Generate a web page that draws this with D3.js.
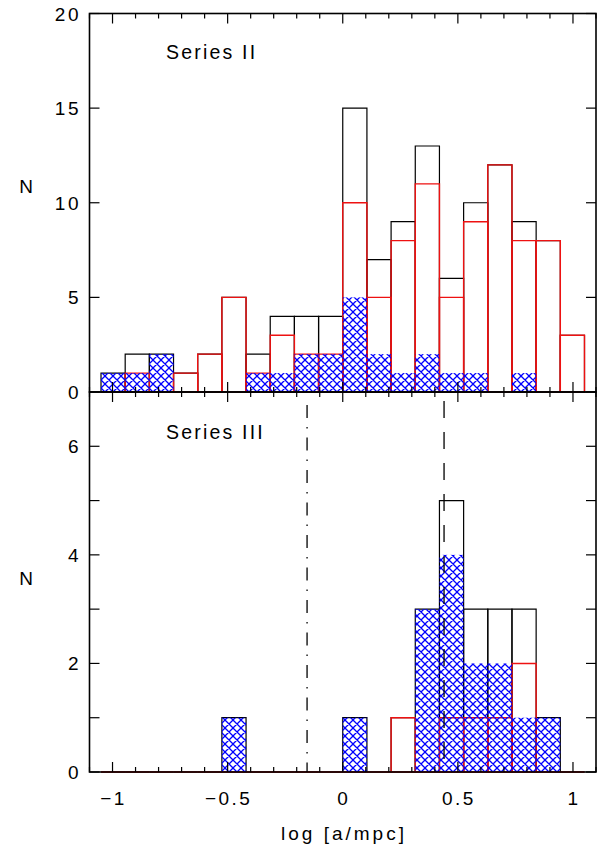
<!DOCTYPE html>
<html>
<head>
<meta charset="utf-8">
<script src="https://cdn.jsdelivr.net/npm/d3@7"></script>
<style>
  html, body { margin: 0; padding: 0; background: #fff; }
  svg { display: block; }
  text { font-family: "Liberation Sans", Arial, sans-serif; fill: #000; }
</style>
</head>
<body>
<div id="chart"></div>
<script>
// ---- data ----
const binLo = [-1.05, -0.945, -0.84, -0.735, -0.63, -0.525, -0.42, -0.315, -0.21, -0.105,
               0, 0.105, 0.21, 0.315, 0.42, 0.525, 0.63, 0.735, 0.84, 0.945];
const binWidth = 0.105;

// Series II (top panel)
const topTotal = [1, 2, 2, 1, 2, 5, 2, 4, 4, 4, 15, 7, 9, 13, 6, 10, 12, 9, 8, 3];
const topRed   = [0, 1, 0, 1, 2, 5, 1, 3, 2, 2, 10, 5, 8, 11, 5, 9, 12, 8, 8, 3];
const topBlue  = [1, 1, 2, 0, 0, 0, 1, 1, 2, 2, 5, 2, 1, 2, 1, 1, 0, 1, 0, 0];

// Series III (bottom panel)
const botTotal = [0, 0, 0, 0, 0, 1, 0, 0, 0, 0, 1, 0, 1, 3, 5, 3, 3, 3, 1, 0];
const botRed   = [0, 0, 0, 0, 0, 0, 0, 0, 0, 0, 0, 0, 1, 0, 1, 1, 1, 2, 0, 0];
const botBlue  = [0, 0, 0, 0, 0, 1, 0, 0, 0, 0, 1, 0, 0, 3, 4, 2, 2, 1, 1, 0];

const xTickMajor = [-1, -0.5, 0, 0.5, 1];
const xTickLabels = ["\u22121", "\u22120.5", "0", "0.5", "1"];
const topYTicks = [0, 5, 10, 15, 20];
const topYLabels = ["0", "5", "10", "15", "20"];
const botYTicks = [0, 1, 2, 3, 4, 5, 6];
const botYLabels = ["0", "2", "4", "6"];
const vLineDashDot = -0.155;
const vLineDashed = 0.44;

// ---- layout ----
const W = 607, H = 854;
const svg = d3.select("#chart").append("svg").attr("width", W).attr("height", H);

const defs = svg.append("defs");
const pat = defs.append("pattern").attr("id", "hatch")
  .attr("patternUnits", "userSpaceOnUse").attr("width", 8).attr("height", 8)
  .attr("x", 1).attr("y", 0);
pat.append("path").attr("d", "M0,0 L8,8 M8,0 L0,8 M-1,7 L1,9 M7,-1 L9,1 M-1,1 L1,-1 M7,9 L9,7")
  .attr("stroke", "#0000ff").attr("stroke-width", 1.3).attr("fill", "none");

const x = d3.scaleLinear().domain([-1.1, 1.1]).range([89.5, 596]);
const yTop = d3.scaleLinear().domain([0, 20]).range([392, 13.5]);
const yBot = d3.scaleLinear().domain([0, 7]).range([772, 392]);

const minorX = d3.range(-11, 12).map(d => d / 10).filter(v => !xTickMajor.some(m => Math.abs(m - v) < 1e-9));

function binPath(y, v, i) {
  const x0 = x(binLo[i]), x1 = x(binLo[i] + binWidth);
  return `M${x0},${y(0)} V${y(v)} H${x1} V${y(0)} Z`;
}

function drawPanel(y, total, red, blue, yTicks, yLabels) {
  const g = svg.append("g");
  // black total outlines
  g.append("g").selectAll("path").data(total).join("path")
    .attr("d", (v, i) => binPath(y, v, i))
    .attr("fill", "none").attr("stroke", "#000").attr("stroke-width", 1.2);
  // red outlines
  g.append("g").selectAll("path").data(red).join("path")
    .attr("d", (v, i) => binPath(y, v, i))
    .attr("fill", "none").attr("stroke", "#ee1111").attr("stroke-width", 1.4);
  // blue hatched
  g.append("g").selectAll("rect").data(blue).join("rect")
    .attr("x", (v, i) => x(binLo[i]))
    .attr("width", (v, i) => x(binLo[i] + binWidth) - x(binLo[i]))
    .attr("y", v => y(v))
    .attr("height", v => y(0) - y(v))
    .attr("fill", "url(#hatch)");

  // frame
  const [yb, yt] = y.range();
  const x0 = x.range()[0], x1 = x.range()[1];
  g.append("rect").attr("x", x0).attr("y", yt).attr("width", x1 - x0).attr("height", yb - yt)
    .attr("fill", "none").attr("stroke", "#000").attr("stroke-width", 1.6);

  // x ticks (inside, top and bottom)
  const tk = g.append("g").attr("stroke", "#000").attr("stroke-width", 1.2);
  [[yb, -1], [yt, 1]].forEach(([yy, dir]) => {
    tk.append("g").selectAll("line").data(xTickMajor).join("line")
      .attr("x1", d => x(d)).attr("x2", d => x(d))
      .attr("y1", yy).attr("y2", yy + dir * 10);
    tk.append("g").selectAll("line").data(minorX).join("line")
      .attr("x1", d => x(d)).attr("x2", d => x(d))
      .attr("y1", yy).attr("y2", yy + dir * 5);
  });
  // y ticks (inside, left and right)
  [[x0, 1], [x1, -1]].forEach(([xx, dir]) => {
    tk.append("g").selectAll("line").data(yTicks).join("line")
      .attr("x1", xx).attr("x2", xx + dir * 10)
      .attr("y1", d => y(d)).attr("y2", d => y(d));
  });
  // y labels
  g.append("g").selectAll("text").data(yLabels).join("text")
    .attr("x", 81).attr("y", d => y(+d) + 7)
    .attr("text-anchor", "end").attr("font-size", 19).attr("letter-spacing", 2.5)
    .text(d => d);
  return g;
}

drawPanel(yTop, topTotal, topRed, topBlue, topYTicks, topYLabels);
drawPanel(yBot, botTotal, botRed, botBlue, botYTicks, botYLabels);

// vertical reference lines in bottom panel
svg.append("line").attr("x1", x(vLineDashDot)).attr("x2", x(vLineDashDot))
  .attr("y1", 405).attr("y2", 772)
  .attr("stroke", "#000").attr("stroke-width", 1.3).attr("stroke-dasharray", "13,9,1.5,9");
svg.append("line").attr("x1", x(vLineDashed)).attr("x2", x(vLineDashed))
  .attr("y1", 401).attr("y2", 772)
  .attr("stroke", "#000").attr("stroke-width", 1.3).attr("stroke-dasharray", "17,14");

// x tick labels
svg.append("g").selectAll("text").data(xTickMajor).join("text")
  .attr("x", d => x(d) + 1).attr("y", 805)
  .attr("text-anchor", "middle").attr("font-size", 19).attr("letter-spacing", 2.5)
  .text((d, i) => xTickLabels[i]);

// axis titles
svg.append("text").attr("x", 344).attr("y", 840).attr("text-anchor", "middle")
  .attr("font-size", 19).attr("letter-spacing", 3).text("log [a/mpc]");
svg.append("text").attr("x", 26).attr("y", 193).attr("text-anchor", "middle")
  .attr("font-size", 19).text("N");
svg.append("text").attr("x", 26).attr("y", 585).attr("text-anchor", "middle")
  .attr("font-size", 19).text("N");

// panel titles
svg.append("text").attr("x", 166).attr("y", 59).attr("font-size", 19.5).attr("letter-spacing", 2.2)
  .text("Series  II");
svg.append("text").attr("x", 166).attr("y", 439).attr("font-size", 19.5).attr("letter-spacing", 2.2)
  .text("Series  III");
</script>
</body>
</html>
